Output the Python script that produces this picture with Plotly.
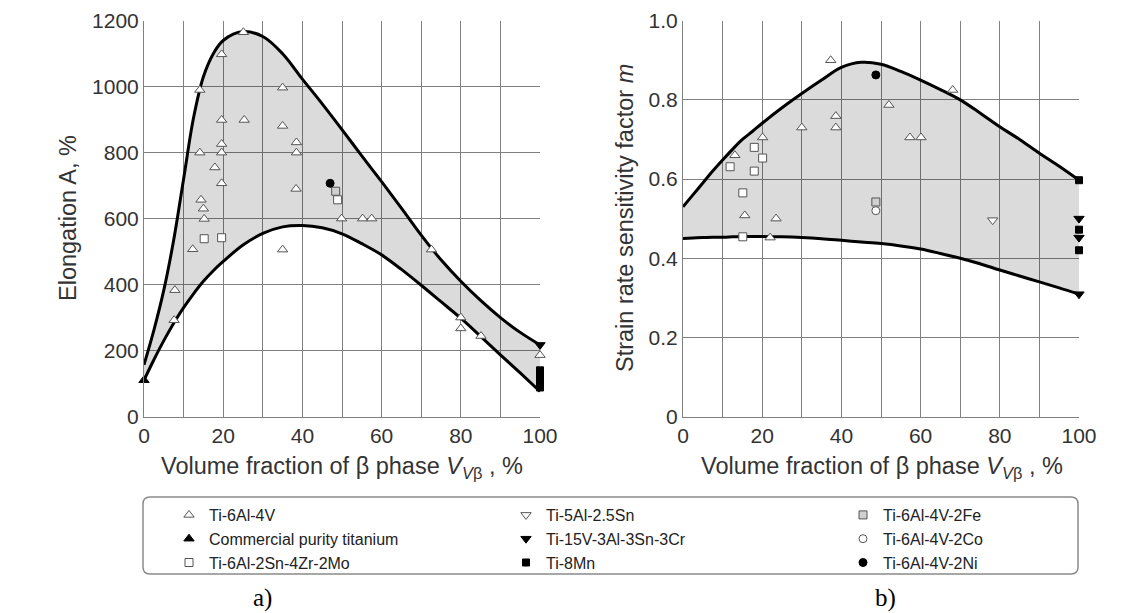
import plotly.graph_objects as go

# figure is drawn inside the page's 8px body margin
W, H = 1127, 605
OFF = 8

# ---------------- data: panel a) elongation ----------------
curve_x = [0, 2.5, 5, 7.5, 10, 12.5, 15, 17.5, 20, 25, 30, 35, 40, 45, 50, 55, 60, 65, 70, 75, 80, 85, 90, 95, 100]
elong_upper = [157, 262, 383, 535, 720, 905, 1030, 1100, 1140, 1167, 1152, 1100, 1023, 948, 870, 790, 712, 632, 550, 475, 410, 352, 300, 255, 217]
elong_lower = [110, 172, 230, 283, 330, 372, 410, 442, 470, 520, 555, 575, 579, 572, 554, 524, 490, 446, 398, 348, 298, 243, 187, 132, 76]

a_ti64_x = [7.6, 7.8, 12.3, 14.1, 14.1, 14.4, 15.0, 15.2, 17.9, 19.6, 19.6, 19.6, 19.6, 19.6, 25.1, 25.3, 35.0, 35.0, 35.0, 38.5, 38.5, 38.4, 49.9, 55.2, 57.5, 72.6, 80.0, 80.0, 85.1, 100]
a_ti64_y = [292, 383, 507, 990, 800, 657, 630, 599, 755, 1098, 899, 826, 800, 707, 1165, 899, 997, 881, 506, 831, 800, 690, 600, 600, 600, 506, 300, 267, 244, 186]
a_cp_x = [0]
a_cp_y = [110]
a_6242_x = [15.2, 19.6, 48.9]
a_6242_y = [539, 542, 657]
a_fe_x = [48.4]
a_fe_y = [683]
a_ni_x = [47.0]
a_ni_y = [707]
a_15v_x = [100]
a_15v_y = [217]
a_8mn_x = [100, 100, 100, 100]
a_8mn_y = [140, 122, 104, 88]

# ---------------- data: panel b) strain rate sensitivity ----------------
m_upper = [0.53, 0.56, 0.59, 0.62, 0.648, 0.675, 0.70, 0.72, 0.741, 0.78, 0.816, 0.85, 0.882, 0.895, 0.89, 0.872, 0.85, 0.826, 0.80, 0.767, 0.732, 0.70, 0.665, 0.632, 0.597]
m_lower = [0.45, 0.451, 0.452, 0.453, 0.453, 0.454, 0.455, 0.455, 0.455, 0.454, 0.452, 0.449, 0.445, 0.441, 0.437, 0.431, 0.423, 0.412, 0.40, 0.386, 0.37, 0.355, 0.34, 0.325, 0.309]

b_ti64_x = [37.3, 38.6, 38.6, 30.0, 20.1, 13.1, 15.6, 23.5, 22.0, 52.0, 57.3, 60.1, 68.1]
b_ti64_y = [0.90, 0.759, 0.73, 0.73, 0.705, 0.66, 0.508, 0.50, 0.452, 0.787, 0.705, 0.705, 0.825]
b_6242_x = [18.0, 20.1, 11.9, 18.0, 15.1, 15.1]
b_6242_y = [0.68, 0.653, 0.631, 0.62, 0.565, 0.454]
b_fe_x = [48.7]
b_fe_y = [0.542]
b_co_x = [48.7]
b_co_y = [0.52]
b_ni_x = [48.7]
b_ni_y = [0.863]
b_5al_x = [78.2]
b_5al_y = [0.496]
b_15v_x = [100, 100, 100]
b_15v_y = [0.50, 0.452, 0.309]
b_8mn_x = [100, 100, 100]
b_8mn_y = [0.597, 0.472, 0.42]

y_ticks_b = [0, 0.2, 0.4, 0.6, 0.8, 1.0]
y_ticktext_b = ["0", "0.2", "0.4", "0.6", "0.8", "1.0"]

FONT = "Liberation Sans"
GRID = "#808080"
FILL = "rgba(0,0,0,0.14)"

fig = go.Figure()

# band curves
for xa, ya, lo, up in [("x", "y", elong_lower, elong_upper), ("x2", "y2", m_lower, m_upper)]:
    fig.add_trace(go.Scatter(x=curve_x, y=lo, mode="lines", line=dict(color="black", width=3, shape="spline", smoothing=1),
                             xaxis=xa, yaxis=ya, showlegend=False, hoverinfo="skip", cliponaxis=False))
    fig.add_trace(go.Scatter(x=curve_x, y=up, mode="lines", line=dict(color="black", width=3, shape="spline", smoothing=1),
                             fill="tonexty", fillcolor=FILL,
                             xaxis=xa, yaxis=ya, showlegend=False, hoverinfo="skip", cliponaxis=False))

open_line = dict(color="#555555", width=1)
styles = {
    "Ti-6Al-4V": dict(symbol="triangle-up", size=9, color="white", line=open_line),
    "Ti-5Al-2.5Sn": dict(symbol="triangle-down", size=9, color="white", line=open_line),
    "Ti-6Al-4V-2Fe": dict(symbol="square", size=8, color="#d0d0d0", line=open_line),
    "Commercial purity titanium": dict(symbol="triangle-up", size=9, color="black", line=dict(color="black", width=1)),
    "Ti-15V-3Al-3Sn-3Cr": dict(symbol="triangle-down", size=9, color="black", line=dict(color="black", width=1)),
    "Ti-6Al-4V-2Co": dict(symbol="circle", size=8, color="white", line=open_line),
    "Ti-6Al-2Sn-4Zr-2Mo": dict(symbol="square", size=8, color="white", line=open_line),
    "Ti-8Mn": dict(symbol="square", size=7, color="black", line=dict(color="black", width=1)),
    "Ti-6Al-4V-2Ni": dict(symbol="circle", size=8, color="black", line=dict(color="black", width=1)),
}

# legend order is row-major (3 columns)
series = {
    "Ti-6Al-4V": ((a_ti64_x, a_ti64_y), (b_ti64_x, b_ti64_y)),
    "Ti-5Al-2.5Sn": (([], []), (b_5al_x, b_5al_y)),
    "Ti-6Al-4V-2Fe": ((a_fe_x, a_fe_y), (b_fe_x, b_fe_y)),
    "Commercial purity titanium": ((a_cp_x, a_cp_y), ([], [])),
    "Ti-15V-3Al-3Sn-3Cr": ((a_15v_x, a_15v_y), (b_15v_x, b_15v_y)),
    "Ti-6Al-4V-2Co": (([], []), (b_co_x, b_co_y)),
    "Ti-6Al-2Sn-4Zr-2Mo": ((a_6242_x, a_6242_y), (b_6242_x, b_6242_y)),
    "Ti-8Mn": ((a_8mn_x, a_8mn_y), (b_8mn_x, b_8mn_y)),
    "Ti-6Al-4V-2Ni": ((a_ni_x, a_ni_y), (b_ni_x, b_ni_y)),
}

for name, ((ax_, ay_), (bx_, by_)) in series.items():
    left_has = len(ax_) > 0
    fig.add_trace(go.Scatter(x=ax_, y=ay_, mode="markers", name=name, legendgroup=name, marker=styles[name],
                             xaxis="x", yaxis="y", cliponaxis=False, showlegend=left_has))
    fig.add_trace(go.Scatter(x=bx_, y=by_, mode="markers", name=name, legendgroup=name, marker=styles[name],
                             xaxis="x2", yaxis="y2", cliponaxis=False, showlegend=not left_has))

def px(x):
    return (x - OFF) / W

def py(y):
    return 1 - (y - OFF) / H

y_dom = [py(416.5), py(20.7)]
axis_common = dict(showgrid=True, gridcolor=GRID, gridwidth=1, zeroline=False, showline=True, linecolor=GRID,
                   linewidth=1, ticks="", automargin=False, tickfont=dict(family=FONT, size=21, color="#333333"))

fig.update_layout(
    width=W, height=H, margin=dict(l=0, r=0, t=0, b=0, autoexpand=False),
    paper_bgcolor="white", plot_bgcolor="white",
    xaxis=dict(domain=[px(144), px(540)], range=[0, 100], tick0=0, dtick=20,
               minor=dict(dtick=10, showgrid=True, gridcolor=GRID, gridwidth=1), anchor="y", **axis_common),
    yaxis=dict(domain=y_dom, range=[0, 1200], tick0=0, dtick=200, anchor="x", **axis_common),
    xaxis2=dict(domain=[px(683), px(1079)], range=[0, 100], tick0=0, dtick=20,
                minor=dict(dtick=10, showgrid=True, gridcolor=GRID, gridwidth=1), anchor="y2", **axis_common),
    yaxis2=dict(domain=y_dom, range=[0, 1.0], tickvals=y_ticks_b, ticktext=y_ticktext_b, anchor="x2", **axis_common),
    legend=dict(orientation="h", x=px(169), y=py(498), xanchor="left", yanchor="top",
                entrywidth=292, entrywidthmode="pixels", traceorder="normal",
                font=dict(family=FONT, size=16, color="#222222"), bgcolor="rgba(0,0,0,0)", borderwidth=0),
    showlegend=True,
)

# rounded legend box
x0, y0, x1, y1, r = 143, 497, 1078, 574, 7
path = (f"M {px(x0 + r)} {py(y0)} L {px(x1 - r)} {py(y0)} Q {px(x1)} {py(y0)} {px(x1)} {py(y0 + r)} "
        f"L {px(x1)} {py(y1 - r)} Q {px(x1)} {py(y1)} {px(x1 - r)} {py(y1)} L {px(x0 + r)} {py(y1)} "
        f"Q {px(x0)} {py(y1)} {px(x0)} {py(y1 - r)} L {px(x0)} {py(y0 + r)} Q {px(x0)} {py(y0)} {px(x0 + r)} {py(y0)} Z")
fig.add_shape(type="path", path=path, xref="paper", yref="paper", line=dict(color="#8a8a8a", width=1.5))

xtitle = "Volume fraction of β phase <i>V</i><sub><i>V</i>β</sub> , %"
ann_font = dict(family=FONT, size=23.5, color="#333333")
common_ann = dict(showarrow=False, xref="paper", yref="paper", xanchor="center", yanchor="middle")
fig.add_annotation(x=px(342), y=py(467), text=xtitle, font=ann_font, **common_ann)
fig.add_annotation(x=px(882), y=py(467), text=xtitle, font=ann_font, **common_ann)
fig.add_annotation(x=px(68), y=py(218), text="Elongation A, %", textangle=-90, font=ann_font, **common_ann)
fig.add_annotation(x=px(625), y=py(218), text="Strain rate sensitivity factor <i>m</i>", textangle=-90,
                   font=ann_font, **common_ann)
fig.add_annotation(x=px(263), y=py(598), text="a)", font=dict(family="Liberation Serif", size=25, color="black"), **common_ann)
fig.add_annotation(x=px(885), y=py(598), text="b)", font=dict(family="Liberation Serif", size=25, color="black"), **common_ann)

fig.write_html("out.html")
